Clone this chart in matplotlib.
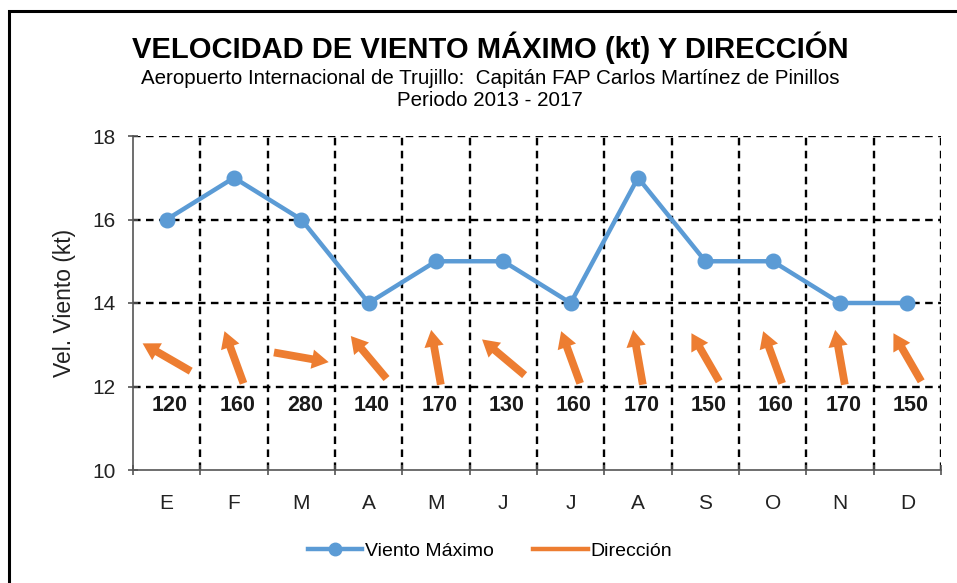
import matplotlib
matplotlib.use("Agg")
import matplotlib.pyplot as plt
import numpy as np
from matplotlib.transforms import offset_copy
from matplotlib.lines import Line2D
from matplotlib.patches import Rectangle

plt.rcParams['font.family'] = ['Liberation Sans', 'DejaVu Sans']

months = ["E", "F", "M", "A", "M", "J", "J", "A", "S", "O", "N", "D"]
viento_max = [16, 17, 16, 14, 15, 15, 14, 17, 15, 15, 14, 14]
direccion = [120, 160, 280, 140, 170, 130, 160, 170, 150, 160, 170, 150]

blue = "#5B9BD5"
orange = "#ED7D31"

fig = plt.figure(figsize=(9.57, 5.83), dpi=100)
fig.patches.append(Rectangle((9/957, -0.1), 1.2, 1 - 11/583 + 0.1, transform=fig.transFigure,
                             fill=False, edgecolor='black', lw=2.2, zorder=0))

ax = fig.add_axes([133/957, 1 - 470/583, (941 - 133)/957, (470 - 136)/583])
x = np.arange(len(months))

ax.plot(x, viento_max, color=blue, lw=3.2, marker='o', markersize=10.5, zorder=4,
        solid_joinstyle='round', solid_capstyle='round')

ax.set_xlim(-0.5, 11.5)
ax.set_ylim(10, 18)
ax.set_yticks([10, 12, 14, 16, 18])
ax.set_xticks(x)
ax.set_xticklabels(months)
ax.set_xticks(np.arange(-0.5, 12, 1), minor=True)
ax.tick_params(axis='x', which='major', length=0, pad=17, labelsize=15, colors='#222222')
ax.tick_params(axis='x', which='minor', length=7, width=1.2, color='#555555', direction='inout')
ax.tick_params(axis='y', length=7, width=1.2, color='#555555', pad=9, labelsize=15,
               labelcolor='#222222', direction='inout')

for s in ['top', 'right']:
    ax.spines[s].set_visible(False)
for s in ['left', 'bottom']:
    ax.spines[s].set_color('#555555')
    ax.spines[s].set_linewidth(1.2)

gkw = dict(color='black', lw=1.7, linestyle=(0, (3.2, 2.3)))
for yv in [12, 14, 16, 18]:
    ax.axhline(yv, zorder=1, **gkw)
for xv in np.arange(0.5, 12, 1):
    ax.axvline(xv, zorder=1, **gkw)

ax.set_ylabel("Vel. Viento (kt)", fontsize=16.5, labelpad=12, color='#222222')

# arrows (wind blowing toward dir+180)
L = 40  # points
yc = 12.7
for i, d in enumerate(direccion):
    th = np.deg2rad(d + 180)
    dx, dy = np.sin(th), np.cos(th)
    tr = offset_copy(ax.transData, fig=fig, x=dx * L / 2, y=dy * L / 2, units='points')
    ax.annotate('', xy=(i, yc), xycoords=tr, xytext=(-dx * L, -dy * L), textcoords='offset points',
                arrowprops=dict(arrowstyle='simple,head_width=0.7,head_length=0.6,tail_width=0.28',
                                mutation_scale=20, color=orange, lw=0, shrinkA=0, shrinkB=0),
                zorder=3, annotation_clip=False)
    ax.text(i + 0.05, 11.55, str(d), ha='center', va='center', fontsize=15.5, fontweight='bold',
            color='#1a1a1a', zorder=5)

fig.text(490/957, 1 - 48/583, "VELOCIDAD DE VIENTO MÁXIMO (kt) Y DIRECCIÓN", ha='center', va='center',
         fontsize=21, fontweight='bold', color='black')
fig.text(490/957, 1 - 78/583, "Aeropuerto Internacional de Trujillo:  Capitán FAP Carlos Martínez de Pinillos",
         ha='center', va='center', fontsize=14.8, color='black')
fig.text(490/957, 1 - 101/583, "Periodo 2013 - 2017", ha='center', va='center', fontsize=14.8, color='black')

handles = [Line2D([], [], color=blue, lw=3.2, marker='o', markersize=9),
           Line2D([], [], color=orange, lw=3.2)]
fig.legend(handles, ["Viento Máximo", "Dirección"], loc='center', bbox_to_anchor=(490/957, 1 - 551/583),
           ncol=2, frameon=False, fontsize=14, handlelength=2.8, handletextpad=0.15, columnspacing=2.0)

fig.savefig("out.png", dpi=100)
